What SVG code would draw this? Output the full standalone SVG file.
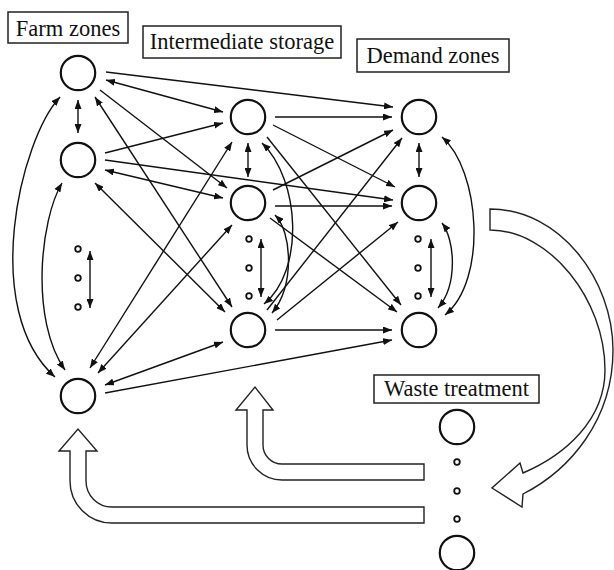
<svg xmlns="http://www.w3.org/2000/svg" width="614" height="570" viewBox="0 0 614 570">
<style>
.node{fill:none;stroke:#111;stroke-width:2.2}
.dot{fill:none;stroke:#111;stroke-width:1.8}
.c{fill:none;stroke:#111;stroke-width:1.4}
.lbl rect{fill:#fff;stroke:#222;stroke-width:1.5}
.lbl text{font-family:"Liberation Serif","Times New Roman",serif;font-size:22.5px;fill:#111;text-anchor:middle}
.flow{fill:#fff;stroke:#222;stroke-width:1.4;stroke-linejoin:miter}
.s{marker-end:url(#ah)}
.d{marker-start:url(#ah);marker-end:url(#ah)}
</style>
<defs>
<marker id="ah" viewBox="0 0 9 7" refX="9" refY="3.5" markerWidth="9" markerHeight="7" markerUnits="userSpaceOnUse" orient="auto-start-reverse">
<path d="M0,0 L9,3.5 L0,7 Z" fill="#111"/>
</marker>
</defs>
<rect x="0" y="0" width="614" height="570" fill="#fff"/>

<g id="labels">
<g id="label-farm" class="lbl"><rect x="8" y="12" width="120" height="31"/><text x="68" y="36">Farm zones</text></g>
<g id="label-storage" class="lbl"><rect x="143" y="26" width="198" height="32"/><text x="242" y="49">Intermediate storage</text></g>
<g id="label-demand" class="lbl"><rect x="357" y="39" width="152" height="33"/><text x="433" y="63">Demand zones</text></g>
<g id="label-waste" class="lbl"><rect x="374" y="375" width="165" height="28"/><text x="456.5" y="396">Waste treatment</text></g>
</g>

<g id="connectors">
<!-- vertical double arrows -->
<line class="c d" x1="78" y1="100" x2="78" y2="133"/>
<line class="c d" x1="90" y1="251" x2="90" y2="308"/>
<line class="c d" x1="248" y1="143" x2="248" y2="177"/>
<line class="c d" x1="261" y1="239" x2="261" y2="297"/>
<line class="c d" x1="419" y1="143" x2="419" y2="177"/>
<line class="c d" x1="431" y1="239" x2="431" y2="297"/>
<!-- curves -->
<path class="c d" d="M60,97 C20,140 -20,310 55,377"/>
<path class="c d" d="M62,183 C40,220 30,320 65,370"/>
<path class="c d" d="M262,143 C300,180 305,270 264,304"/>
<path class="c d" d="M275,215 C292,232 295,285 272,313"/>
<path class="c d" d="M442,137 C480,170 488,280 445,315"/>
<path class="c d" d="M442,223 C455,240 458,285 438,308"/>
<!-- farm to storage / demand -->
<line class="c s" x1="106" y1="72" x2="393" y2="107"/>
<line class="c d" x1="106" y1="80" x2="223" y2="112"/>
<line class="c s" x1="100" y1="90" x2="227" y2="188"/>
<line class="c d" x1="95" y1="97" x2="232" y2="307"/>
<line class="c s" x1="105" y1="153" x2="223" y2="123"/>
<line class="c s" x1="105" y1="160" x2="393" y2="200"/>
<line class="c d" x1="105" y1="170" x2="223" y2="198"/>
<line class="c d" x1="95" y1="183" x2="225" y2="312"/>
<line class="c d" x1="90" y1="368" x2="232" y2="142"/>
<line class="c d" x1="98" y1="373" x2="232" y2="225"/>
<line class="c d" x1="105" y1="385" x2="223" y2="342"/>
<line class="c s" x1="105" y1="393" x2="392" y2="340"/>
<!-- storage to demand -->
<line class="c s" x1="275" y1="117" x2="392" y2="117"/>
<line class="c s" x1="273" y1="125" x2="395" y2="187"/>
<line class="c s" x1="267" y1="137" x2="401" y2="305"/>
<line class="c s" x1="273" y1="190" x2="393" y2="130"/>
<line class="c s" x1="275" y1="206" x2="392" y2="206"/>
<line class="c s" x1="270" y1="218" x2="397" y2="312"/>
<line class="c s" x1="267" y1="310" x2="402" y2="138"/>
<line class="c s" x1="277" y1="320" x2="398" y2="222"/>
<line class="c s" x1="275" y1="330" x2="392" y2="330"/>
<!-- hollow flow arrows -->
<path id="flow-demand-waste" class="flow" d="M490,209 C560,209 613,280 613,350 C613,420 570,470 523,494 L522,507 L492,488 L520,463 L523,473 C565,455 605,420 605,370 C605,300 550,230 490,230 Z"/>
<path id="flow-waste-storage" class="flow" d="M424,464 L282,464 A19,19 0 0 1 263,445 L263,410 L273,410 L255,387 L236,410 L247,410 L247,445 A35,35 0 0 0 282,480 L424,480 Z"/>
<path id="flow-waste-farm" class="flow" d="M424,507 L112,507 A26,26 0 0 1 86,481 L86,451 L97,451 L78,429 L59,451 L70,451 L70,481 A42,42 0 0 0 112,523 L424,523 Z"/>
</g>

<g id="farm1"><circle class="node" cx="78" cy="73" r="17.2"/></g>
<g id="farm2"><circle class="node" cx="78" cy="160" r="17.2"/></g>
<g id="farm-dots"><circle class="dot" cx="78" cy="249" r="2.8"/><circle class="dot" cx="78" cy="278" r="2.8"/><circle class="dot" cx="78" cy="307" r="2.8"/></g>
<g id="farm3"><circle class="node" cx="78" cy="396" r="17.2"/></g>

<g id="storage1"><circle class="node" cx="248" cy="117" r="17.2"/></g>
<g id="storage2"><circle class="node" cx="248" cy="203" r="17.2"/></g>
<g id="storage-dots"><circle class="dot" cx="249" cy="239" r="2.8"/><circle class="dot" cx="249" cy="268" r="2.8"/><circle class="dot" cx="249" cy="296" r="2.8"/></g>
<g id="storage3"><circle class="node" cx="248" cy="330" r="17.2"/></g>

<g id="demand1"><circle class="node" cx="419" cy="117" r="17.2"/></g>
<g id="demand2"><circle class="node" cx="419" cy="203" r="17.2"/></g>
<g id="demand-dots"><circle class="dot" cx="418" cy="239" r="2.8"/><circle class="dot" cx="418" cy="268" r="2.8"/><circle class="dot" cx="418" cy="296" r="2.8"/></g>
<g id="demand3"><circle class="node" cx="419" cy="330" r="17.2"/></g>

<g id="waste1"><circle class="node" cx="457" cy="427" r="17.2"/></g>
<g id="waste-dots"><circle class="dot" cx="457" cy="462" r="2.8"/><circle class="dot" cx="457" cy="491" r="2.8"/><circle class="dot" cx="457" cy="519" r="2.8"/></g>
<g id="waste2"><circle class="node" cx="457" cy="553" r="17.2"/></g>
</svg>
